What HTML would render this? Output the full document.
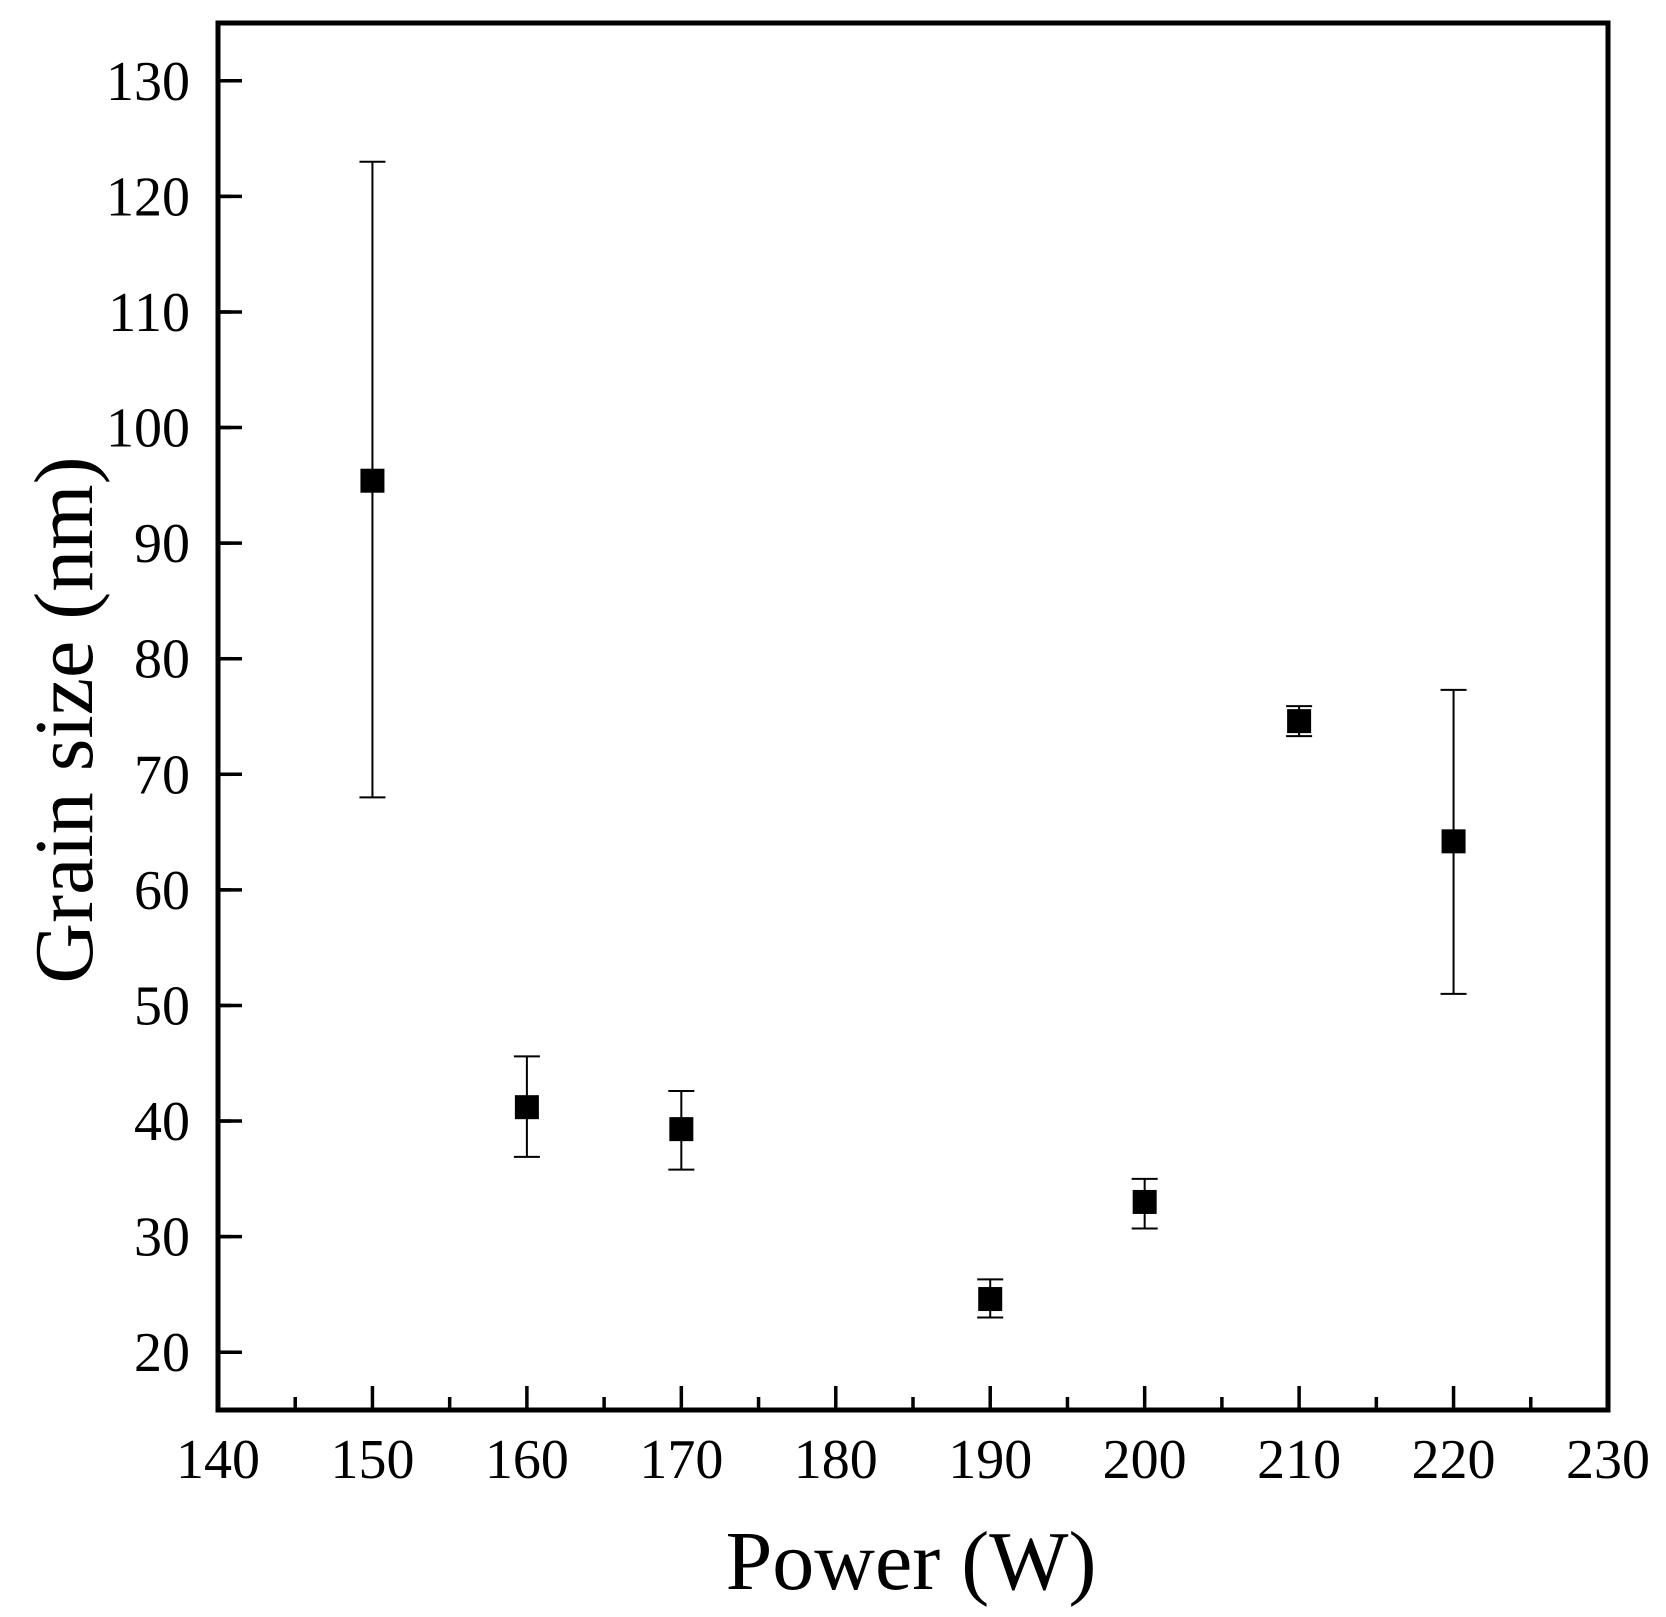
<!DOCTYPE html>
<html><head><meta charset="utf-8"><style>
html,body{margin:0;padding:0;background:#fff;}
svg{display:block;font-family:"Liberation Serif",serif;}
</style></head><body>
<svg id="chart" width="1666" height="1617" viewBox="0 0 1666 1617">
<g id="axes"></g>
<g id="marks"></g>
<text x="911" y="1589" font-size="84" text-anchor="middle">Power (W)</text>
<text transform="translate(92,720) rotate(-90)" font-size="84" text-anchor="middle">Grain size (nm)</text>
</svg>
<script>
const powers = [150, 160, 170, 190, 200, 210, 220];
const grainSize = [95.4, 41.2, 39.3, 24.6, 33.0, 74.6, 64.2];
const errLow = [68.0, 36.9, 35.8, 23.0, 30.7, 73.3, 51.0];
const errHigh = [123.0, 45.6, 42.6, 26.3, 35.0, 75.9, 77.3];
const xTicks = [140, 150, 160, 170, 180, 190, 200, 210, 220, 230];
const yTicks = [20, 30, 40, 50, 60, 70, 80, 90, 100, 110, 120, 130];

const L=218,R=1608,T=23,B=1410;
const xMin=140,xMax=230,yMin=15,yMax=135;
const sx=v=>L+(v-xMin)/(xMax-xMin)*(R-L);
const sy=v=>B-(v-yMin)/(yMax-yMin)*(B-T);
const NS="http://www.w3.org/2000/svg";
const axes=document.getElementById('axes'), marks=document.getElementById('marks');
function mk(p,tag,attrs){const e=document.createElementNS(NS,tag);for(const k in attrs)e.setAttribute(k,attrs[k]);p.appendChild(e);return e;}

const frame=mk(axes,'rect',{x:L,y:T,width:R-L,height:B-T,fill:'none',stroke:'#000','stroke-width':5});



for(let i=0;i<xTicks.length;i++){
  const v=xTicks[i],x=sx(v);
  const t=mk(axes,'line',{x1:x,x2:x,y1:B,y2:B-24,stroke:'#000','stroke-width':3.5});
  
  
  if(i<xTicks.length-1){const xm=sx(v+5);
    const m=mk(axes,'line',{x1:xm,x2:xm,y1:B,y2:B-13,stroke:'#000','stroke-width':3.5});
    
    }
  const lb=mk(axes,'text',{x:x,y:1478,'font-size':56,'text-anchor':'middle'});
  lb.textContent=v;
  
  
}
for(let v=yMin+5;v<yMax;v+=10){const y=sy(v);
  const m=mk(axes,'line',{x1:L,x2:L+13,y1:y,y2:y,stroke:'#000','stroke-width':3.5});
  
  }
for(const v of yTicks){const y=sy(v);
  const t=mk(axes,'line',{x1:L,x2:L+24,y1:y,y2:y,stroke:'#000','stroke-width':3.5});
  
  
  const lb=mk(axes,'text',{x:190,y:y+19,'font-size':56,'text-anchor':'end'});
  lb.textContent=v;
  
  
}
for(let i=0;i<powers.length;i++){
  const x=sx(powers[i]);
  const eb=mk(marks,'path',{d:`M${x},${sy(errLow[i])}V${sy(errHigh[i])}M${x-13},${sy(errLow[i])}H${x+13}M${x-13},${sy(errHigh[i])}H${x+13}`,stroke:'#000','stroke-width':2,fill:'none'});
  
  
  const p=mk(marks,'rect',{x:x-12,y:sy(grainSize[i])-12,width:24,height:24,fill:'#000'});
  
  
}
</script>
</body></html>
